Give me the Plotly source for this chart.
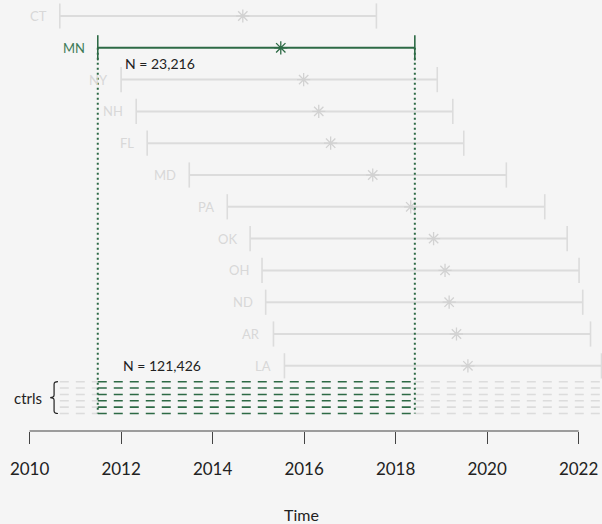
import plotly.graph_objects as go

# Treated units: name, rollout window start/end and treatment date
states = ["CT", "MN", "NY", "NH", "FL", "MD", "PA", "OK", "OH", "ND", "AR", "LA"]
window_start = [2010.66, 2011.49, 2012.00, 2012.33, 2012.57, 2013.49,
                2014.32, 2014.82, 2015.08, 2015.16, 2015.33, 2015.57]
window_end = [2017.58, 2018.42, 2018.91, 2019.25, 2019.49, 2020.42,
              2021.26, 2021.75, 2022.01, 2022.09, 2022.26, 2022.50]
treat_date = [2014.66, 2015.49, 2015.99, 2016.32, 2016.58, 2017.50,
              2018.33, 2018.83, 2019.08, 2019.17, 2019.33, 2019.58]

focus_state = "MN"
n_treated = "N = 23,216"
n_controls = "N = 121,426"
n_control_lines = 6
x_ticks = [2010, 2012, 2014, 2016, 2018, 2020, 2022]
x_title = "Time"

BG = "#f5f5f5"
GREY_LINE = "#dcdcdc"
GREY_TEXT = "#d8d8d8"
GREY_STAR = "#d2d2d2"
GREEN = "#2d6a45"
GREEN_TEXT = "#3d7b57"
INK = "#222222"
FONT = "Lato"

fig = go.Figure()
annotations = []

focus_i = states.index(focus_state)
f_start, f_end = window_start[focus_i], window_end[focus_i]

for i, s in enumerate(states):
    is_focus = s == focus_state
    lc = GREEN if is_focus else GREY_LINE
    sc = GREEN if is_focus else GREY_STAR
    tc = GREEN_TEXT if is_focus else GREY_TEXT
    # window bar with end caps
    fig.add_trace(go.Scatter(
        x=[window_start[i], window_end[i]], y=[i, i], mode="lines+markers",
        line=dict(color=lc, width=2),
        marker=dict(symbol="line-ns", size=18, color=lc,
                    line=dict(color=lc, width=1.6)),
        hoverinfo="skip", showlegend=False))
    # treatment date
    fig.add_trace(go.Scatter(
        x=[treat_date[i]], y=[i], mode="markers",
        marker=dict(symbol="asterisk-open", size=11, color=sc,
                    line=dict(color=sc, width=1.3)),
        hoverinfo="skip", showlegend=False))
    annotations.append(dict(
        x=window_start[i], y=i, text=s, showarrow=False, xanchor="right",
        yanchor="middle", xshift=-11, font=dict(family=FONT, size=13, color=tc)))

# control units: stacked dashed lines below the treated rows
ctrl_center = len(states)
ctrl_span = 1.0
ctrl_y = [ctrl_center - ctrl_span / 2 + k * ctrl_span / (n_control_lines - 1)
          for k in range(n_control_lines)]
ctrl_lo = min(window_start)
ctrl_hi = max(window_end)
for y in ctrl_y:
    for x0, x1, col in [(ctrl_lo, f_start, GREY_LINE), (f_start, f_end, GREEN),
                        (f_end, ctrl_hi, GREY_LINE)]:
        fig.add_trace(go.Scatter(
            x=[x0, x1], y=[y, y], mode="lines",
            line=dict(color=col, width=1.6, dash="9px,7px"),
            hoverinfo="skip", showlegend=False))

# dotted guides marking the focus window
for xv in (f_start, f_end):
    fig.add_trace(go.Scatter(
        x=[xv, xv], y=[focus_i, max(ctrl_y)], mode="lines",
        line=dict(color=GREEN, width=2, dash="2px,3px"),
        hoverinfo="skip", showlegend=False))

annotations.append(dict(
    x=2012.05, y=focus_i + 0.5, text=n_treated, showarrow=False, xanchor="left",
    yanchor="middle", font=dict(family=FONT, size=14, color=INK)))
annotations.append(dict(
    x=2012.0, y=len(states) - 1, text=n_controls, showarrow=False, xanchor="left",
    yanchor="middle", font=dict(family=FONT, size=14, color=INK)))

# brace and label for the control group
bx_l, bx_r = 2010.45, 2010.62
bx_m = (bx_l + bx_r) / 2
yt, yb = min(ctrl_y), max(ctrl_y)
ym = (yt + yb) / 2
d = 0.08
brace = (f"M {bx_r},{yt} Q {bx_m},{yt} {bx_m},{yt + d} L {bx_m},{ym - d} "
         f"Q {bx_m},{ym} {bx_l},{ym} Q {bx_m},{ym} {bx_m},{ym + d} "
         f"L {bx_m},{yb - d} Q {bx_m},{yb} {bx_r},{yb}")
shapes = [
    dict(type="path", path=brace, xref="x", yref="y",
         line=dict(color=INK, width=1.2)),
    dict(type="line", x0=x_ticks[0], x1=x_ticks[-1], y0=0, y1=0,
         xref="x", yref="paper", line=dict(color="#444444", width=1.2)),
]
annotations.append(dict(
    x=bx_l, y=ym, text="ctrls", showarrow=False, xanchor="right", yanchor="middle",
    xshift=-6, font=dict(family=FONT, size=15, color=INK)))

annotations.append(dict(
    x=0.5, xref="paper", y=0, yref="paper", text=x_title, showarrow=False,
    xanchor="center", yanchor="middle", yshift=-83,
    font=dict(family=FONT, size=16, color=INK)))

fig.update_layout(
    width=602, height=524,
    margin=dict(l=0, r=0, t=0, b=93),
    paper_bgcolor=BG, plot_bgcolor=BG,
    shapes=shapes, annotations=annotations,
    xaxis=dict(range=[2009.353, 2022.511], showgrid=False, zeroline=False,
               showline=False, ticks="outside", ticklen=12, tickwidth=1.2,
               tickcolor="#444444", tickvals=x_ticks,
               ticktext=[str(t) for t in x_ticks], ticklabelstandoff=11,
               tickfont=dict(family=FONT, size=17, color=INK)),
    yaxis=dict(range=[13.05, -0.503], visible=False),
)

fig.write_html("out.html")
